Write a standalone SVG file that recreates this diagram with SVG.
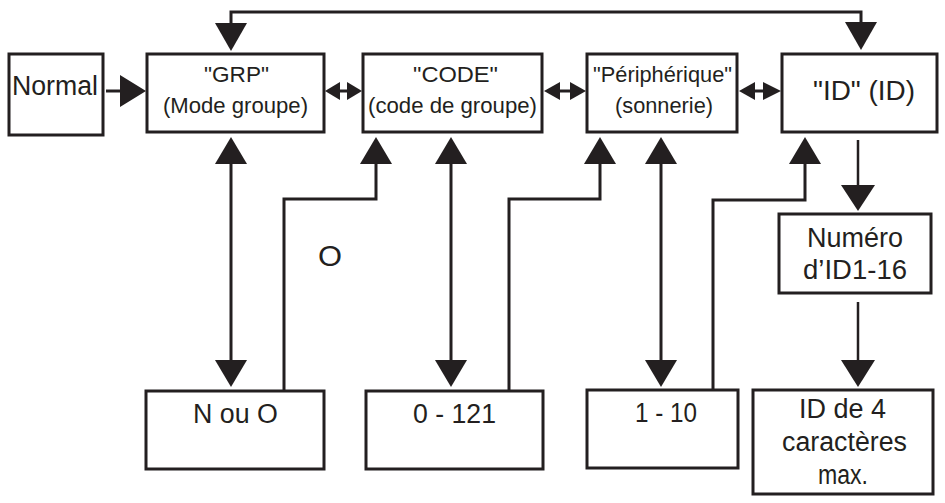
<svg xmlns="http://www.w3.org/2000/svg" width="945" height="503" viewBox="0 0 945 503">
<style>
.box{fill:#fff;stroke:#231f20;stroke-width:3}
.ln{fill:none;stroke:#231f20;stroke-width:3}
.ln2{fill:none;stroke:#231f20;stroke-width:2.5}
.ah{fill:#231f20}
text{font-family:"Liberation Sans",Arial,sans-serif;fill:#231f20}
.t24{font-size:27px}
.t20{font-size:21.5px}
</style>
<rect width="945" height="503" fill="#fff"/>
<g id="connectors">
  <polyline class="ln" points="231,24 231,12 861,12 861,24"/>
  <polygon class="ah" points="215,23 247,23 231,51"/>
  <polygon class="ah" points="845,22 877,22 861,50"/>
  <line class="ln" x1="106" y1="91" x2="122" y2="91"/>
  <polygon class="ah" points="120,75 120,107 146,91"/>
  <line class="ln" x1="336" y1="91" x2="350" y2="91"/>
  <polygon class="ah" points="325,91 340,82 340,100"/>
  <polygon class="ah" points="362,91 347,82 347,100"/>
  <line class="ln" x1="556" y1="91" x2="574" y2="91"/>
  <polygon class="ah" points="544,91 560,82 560,100"/>
  <polygon class="ah" points="586,91 570,82 570,100"/>
  <line class="ln" x1="751" y1="91" x2="768" y2="91"/>
  <polygon class="ah" points="739,91 755,82 755,100"/>
  <polygon class="ah" points="781,91 763,82 763,100"/>
  <line class="ln" x1="231" y1="160" x2="231" y2="364"/>
  <polygon class="ah" points="215,164 247,164 231,137"/>
  <polygon class="ah" points="215,360 247,360 231,387"/>
  <line class="ln" x1="451" y1="160" x2="451" y2="364"/>
  <polygon class="ah" points="435,164 467,164 451,137"/>
  <polygon class="ah" points="435,360 467,360 451,387"/>
  <line class="ln" x1="661" y1="160" x2="661" y2="364"/>
  <polygon class="ah" points="645,164 677,164 661,137"/>
  <polygon class="ah" points="645,360 677,360 661,387"/>
  <polyline class="ln" points="284,390 284,199 376,199 376,160"/>
  <polygon class="ah" points="360,164 392,164 376,137"/>
  <polyline class="ln" points="509,390 509,199 600,199 600,160"/>
  <polygon class="ah" points="584,164 616,164 600,137"/>
  <polyline class="ln" points="713,389 713,200 805,200 805,160"/>
  <polygon class="ah" points="789,164 821,164 805,137"/>
  <line class="ln2" x1="858" y1="140" x2="858" y2="190"/>
  <polygon class="ah" points="841,185 875,185 858,211"/>
  <line class="ln2" x1="858" y1="302" x2="858" y2="364"/>
  <polygon class="ah" points="841,360 875,360 858,387"/>
</g>
<g id="normal">
  <rect class="box" x="9" y="54" width="94" height="81"/>
  <text class="t24" x="12" y="95" textLength="86" lengthAdjust="spacingAndGlyphs">Normal</text>
</g>
<g id="grp">
  <rect class="box" x="147" y="54" width="177" height="78"/>
  <text class="t20" x="204" y="82" textLength="65" lengthAdjust="spacingAndGlyphs">"GRP"</text>
  <text class="t20" x="163" y="113" textLength="145" lengthAdjust="spacingAndGlyphs">(Mode groupe)</text>
</g>
<g id="code">
  <rect class="box" x="363" y="54" width="179" height="78"/>
  <text class="t20" x="413" y="82" textLength="85" lengthAdjust="spacingAndGlyphs">"CODE"</text>
  <text class="t20" x="368" y="113" textLength="169" lengthAdjust="spacingAndGlyphs">(code de groupe)</text>
</g>
<g id="peripherique">
  <rect class="box" x="587" y="54" width="150" height="78"/>
  <text class="t20" x="593" y="82" textLength="139" lengthAdjust="spacingAndGlyphs">"Périphérique"</text>
  <text class="t20" x="615" y="113" textLength="98" lengthAdjust="spacingAndGlyphs">(sonnerie)</text>
</g>
<g id="id">
  <rect class="box" x="782" y="54" width="155" height="78"/>
  <text class="t24" x="813" y="100" textLength="102" lengthAdjust="spacingAndGlyphs">"ID" (ID)</text>
</g>
<g id="numero">
  <rect class="box" x="779" y="214" width="152" height="79"/>
  <text class="t24" x="807" y="247" textLength="96" lengthAdjust="spacingAndGlyphs">Numéro</text>
  <text class="t24" x="803" y="279" textLength="104" lengthAdjust="spacingAndGlyphs">d’ID1-16</text>
</g>
<g id="id4">
  <rect class="box" x="753" y="390" width="180" height="104"/>
  <text class="t24" x="799" y="418" textLength="87" lengthAdjust="spacingAndGlyphs">ID de 4</text>
  <text class="t24" x="782" y="451" textLength="125" lengthAdjust="spacingAndGlyphs">caractères</text>
  <text class="t24" x="818" y="484" textLength="50" lengthAdjust="spacingAndGlyphs">max.</text>
</g>
<g id="nouo">
  <rect class="box" x="146" y="391" width="178" height="78"/>
  <text class="t24" x="193" y="423" textLength="85" lengthAdjust="spacingAndGlyphs">N ou O</text>
</g>
<g id="r0121">
  <rect class="box" x="366" y="391" width="177" height="78"/>
  <text class="t24" x="413" y="423" textLength="83" lengthAdjust="spacingAndGlyphs">0 - 121</text>
</g>
<g id="r110">
  <rect class="box" x="587" y="390" width="151" height="78"/>
  <text class="t24" x="635" y="422" textLength="62" lengthAdjust="spacingAndGlyphs">1 - 10</text>
</g>
<g id="label-o">
  <text x="318" y="266" style="font-size:30px" textLength="24" lengthAdjust="spacingAndGlyphs">O</text>
</g>
</svg>
